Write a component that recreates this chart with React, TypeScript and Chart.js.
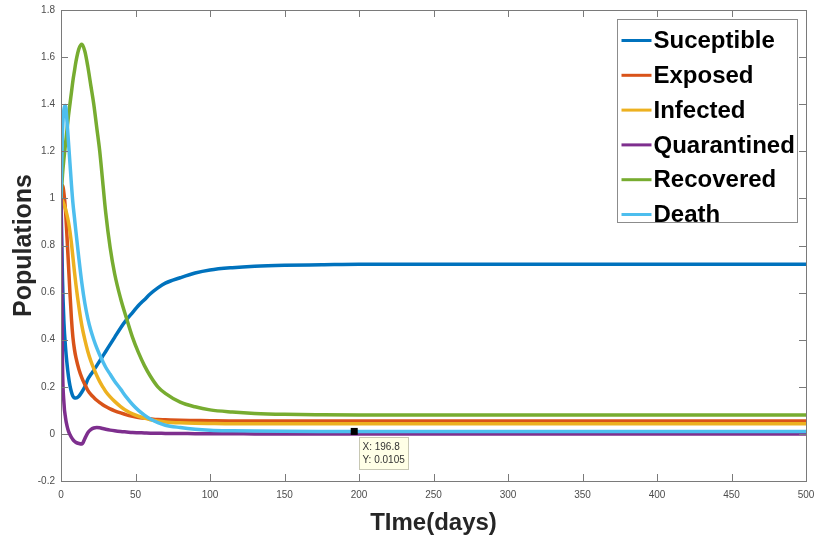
import React, { useEffect, useRef } from "react";
import { Chart, registerables } from "chart.js";

Chart.register(...registerables);

// ---- Data ----
const times = [0, 1, 2, 3, 4, 5, 6, 7, 8, 9, 10, 12, 14, 16, 18, 20, 22, 24, 26, 28, 30, 33, 36, 40, 44, 48, 52, 56, 60, 65, 70, 80, 90, 100, 115, 130, 150, 175, 200, 300, 400, 500];

const susceptible = [1.0, 0.66, 0.47, 0.37, 0.30, 0.245, 0.205, 0.178, 0.16, 0.153, 0.152, 0.16, 0.178, 0.2, 0.232, 0.252, 0.27, 0.29, 0.31, 0.33, 0.35, 0.38, 0.41, 0.45, 0.485, 0.515, 0.545, 0.57, 0.595, 0.62, 0.64, 0.663, 0.683, 0.696, 0.706, 0.712, 0.716, 0.718, 0.72, 0.72, 0.72, 0.72];
const exposed = [1.0, 1.055, 1.02, 0.95, 0.84, 0.72, 0.6, 0.49, 0.41, 0.36, 0.325, 0.275, 0.238, 0.21, 0.185, 0.168, 0.155, 0.143, 0.133, 0.124, 0.116, 0.106, 0.098, 0.089, 0.081, 0.075, 0.07, 0.067, 0.064, 0.061, 0.06, 0.058, 0.057, 0.056, 0.055, 0.055, 0.055, 0.055, 0.055, 0.055, 0.055, 0.055];
const infected = [1.0, 0.99, 0.975, 0.955, 0.93, 0.9, 0.86, 0.81, 0.75, 0.69, 0.635, 0.54, 0.46, 0.4, 0.35, 0.31, 0.277, 0.248, 0.222, 0.2, 0.18, 0.157, 0.138, 0.116, 0.098, 0.085, 0.075, 0.067, 0.06, 0.055, 0.051, 0.047, 0.045, 0.044, 0.043, 0.043, 0.043, 0.043, 0.043, 0.043, 0.043, 0.043];
const quarantined = [1.0, 0.3, 0.13, 0.07, 0.035, 0.012, -0.003, -0.015, -0.024, -0.031, -0.036, -0.041, -0.043, -0.02, 0.005, 0.018, 0.025, 0.027, 0.026, 0.023, 0.02, 0.016, 0.013, 0.01, 0.008, 0.006, 0.005, 0.004, 0.003, 0.003, 0.002, 0.002, 0.001, 0.001, 0.001, 0, 0, 0, 0, 0, 0, 0];
const recovered = [1.0, 1.1, 1.17, 1.23, 1.29, 1.35, 1.4, 1.45, 1.5, 1.54, 1.58, 1.635, 1.655, 1.625, 1.56, 1.48, 1.4, 1.3, 1.2, 1.07, 0.94, 0.79, 0.68, 0.575, 0.49, 0.41, 0.345, 0.29, 0.245, 0.2, 0.172, 0.135, 0.115, 0.102, 0.093, 0.087, 0.083, 0.081, 0.08, 0.08, 0.08, 0.08];
const death = [1.0, 1.28, 1.38, 1.395, 1.33, 1.24, 1.15, 1.06, 0.98, 0.92, 0.86, 0.745, 0.64, 0.555, 0.49, 0.44, 0.4, 0.365, 0.335, 0.308, 0.283, 0.253, 0.224, 0.19, 0.155, 0.125, 0.1, 0.08, 0.063, 0.048, 0.037, 0.027, 0.02, 0.016, 0.0135, 0.012, 0.011, 0.0107, 0.0105, 0.0105, 0.0105, 0.0105];

const seriesLabels = ["Suceptible", "Exposed", "Infected", "Quarantined", "Recovered", "Death"];
const seriesColors = ["#0072BD", "#D95319", "#EDB120", "#7E2F8E", "#77AC30", "#4DBEEE"];
const seriesValues = [susceptible, exposed, infected, quarantined, recovered, death];

const xTicks = [0, 50, 100, 150, 200, 250, 300, 350, 400, 450, 500];
const yTicks = [-0.2, 0, 0.2, 0.4, 0.6, 0.8, 1, 1.2, 1.4, 1.6, 1.8];

const datatipX = 196.8;
const datatipY = 0.0105;

const AXIS_COLOR = "#7a7a7a";

const boxPlugin = {
  id: "matlabBox",
  afterDatasetsDraw(chart: any) {
    const { ctx, chartArea: a, scales } = chart;
    const xs = scales.x;
    const ys = scales.y;
    ctx.save();
    ctx.strokeStyle = AXIS_COLOR;
    ctx.lineWidth = 1;
    ctx.strokeRect(Math.round(a.left) + 0.5, Math.round(a.top) + 0.5, Math.round(a.right - a.left), Math.round(a.bottom - a.top));
    const tl = 7;
    ctx.beginPath();
    xTicks.forEach((v) => {
      const px = Math.round(xs.getPixelForValue(v)) + 0.5;
      ctx.moveTo(px, a.bottom);
      ctx.lineTo(px, a.bottom - tl);
      ctx.moveTo(px, a.top);
      ctx.lineTo(px, a.top + tl);
    });
    yTicks.forEach((v) => {
      const py = Math.round(ys.getPixelForValue(v)) + 0.5;
      ctx.moveTo(a.left, py);
      ctx.lineTo(a.left + tl, py);
      ctx.moveTo(a.right, py);
      ctx.lineTo(a.right - tl, py);
    });
    ctx.stroke();

    // datatip
    const px = xs.getPixelForValue(datatipX);
    const py = ys.getPixelForValue(datatipY);
    ctx.fillStyle = "#000";
    ctx.fillRect(px - 3.5, py - 3.5, 7, 7);
    const bx = Math.round(px + 5) + 0.5;
    const by = Math.round(py + 6) + 0.5;
    ctx.fillStyle = "#ffffe6";
    ctx.strokeStyle = "#c8c8b4";
    ctx.fillRect(bx, by, 49, 32);
    ctx.strokeRect(bx, by, 49, 32);
    ctx.fillStyle = "#333";
    ctx.font = "10px Arial, 'Liberation Sans', sans-serif";
    ctx.textBaseline = "middle";
    ctx.textAlign = "left";
    ctx.fillText("X: " + datatipX, bx + 3, by + 10);
    ctx.fillText("Y: " + datatipY, bx + 3, by + 23);

    // legend
    const lw = 180;
    const lh = 203;
    const lx = Math.round(a.right - 9 - lw) + 0.5;
    const ly = Math.round(a.top + 9) + 0.5;
    ctx.fillStyle = "#ffffff";
    ctx.fillRect(lx, ly, lw, lh);
    ctx.strokeStyle = "#8c8c8c";
    ctx.strokeRect(lx, ly, lw, lh);
    ctx.font = "bold 24px Arial, 'Liberation Sans', sans-serif";
    ctx.textBaseline = "middle";
    chart.data.datasets.forEach((ds: any, i: number) => {
      const cy = ly + 21 + i * 34.8;
      ctx.strokeStyle = ds.borderColor;
      ctx.lineWidth = 3;
      ctx.beginPath();
      ctx.moveTo(lx + 4, cy);
      ctx.lineTo(lx + 34, cy);
      ctx.stroke();
      ctx.fillStyle = "#000";
      ctx.fillText(ds.label, lx + 36, cy + 1);
    });
    ctx.restore();
  },
};

export default function App() {
  const ref = useRef<HTMLCanvasElement>(null);
  useEffect(() => {
    if (!ref.current) return;
    const datasets = seriesLabels.map((label, i) => ({
      label,
      data: times.map((t, k) => ({ x: t, y: seriesValues[i][k] })),
      borderColor: seriesColors[i],
      backgroundColor: seriesColors[i],
      borderWidth: 3.5,
      pointRadius: 0,
      fill: false,
      cubicInterpolationMode: "monotone" as const,
      order: seriesLabels.length - i,
    }));
    const chart = new Chart(ref.current, {
      type: "line",
      data: { datasets },
      plugins: [boxPlugin],
      options: {
        animation: false,
        responsive: true,
        maintainAspectRatio: false,
        layout: { padding: { top: 10, right: 0, left: 0, bottom: 0 } },
        plugins: { legend: { display: false }, tooltip: { enabled: false } },
        scales: {
          x: {
            type: "linear",
            min: 0,
            max: 500,
            grid: { display: false, drawTicks: false },
            border: { display: false },
            afterBuildTicks: (s: any) => {
              s.ticks = xTicks.map((v) => ({ value: v }));
            },
            afterFit: (s: any) => {
              s.height = 60;
              s.paddingRight = 8;
              s.paddingLeft = 0;
            },
            ticks: {
              padding: 8,
              color: "#4d4d4d",
              font: { family: "Arial, 'Liberation Sans', sans-serif", size: 10 },
              maxRotation: 0,
              callback: (v: any) => String(v),
            },
            title: {
              display: true,
              text: "TIme(days)",
              color: "#262626",
              font: { family: "Arial, 'Liberation Sans', sans-serif", size: 24, weight: "bold", lineHeight: 1.2 },
              padding: { top: 0, bottom: 3 },
            },
          },
          y: {
            type: "linear",
            min: -0.2,
            max: 1.8,
            grid: { display: false, drawTicks: false },
            border: { display: false },
            afterBuildTicks: (s: any) => {
              s.ticks = yTicks.map((v) => ({ value: v }));
            },
            afterFit: (s: any) => {
              s.width = 61;
              s.paddingTop = 0;
            },
            ticks: {
              padding: 6,
              color: "#4d4d4d",
              font: { family: "Arial, 'Liberation Sans', sans-serif", size: 10 },
              callback: (v: any) => String(Number(Number(v).toFixed(1))),
            },
            title: {
              display: true,
              text: "Populations",
              color: "#262626",
              font: { family: "Arial, 'Liberation Sans', sans-serif", size: 25, weight: "bold", lineHeight: 1.2 },
              padding: { top: 9, bottom: 0 },
            },
          },
        },
      },
    });
    return () => chart.destroy();
  }, []);
  return (
    <div style={{ position: "fixed", left: 0, top: 0, width: 814, height: 541, background: "#fff" }}>
      <canvas ref={ref} />
    </div>
  );
}
